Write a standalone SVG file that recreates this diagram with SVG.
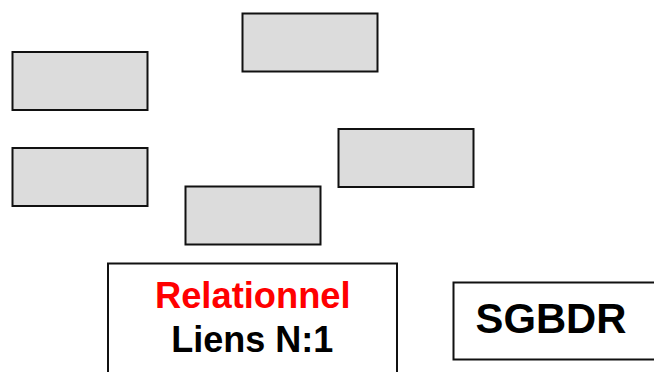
<svg xmlns="http://www.w3.org/2000/svg" width="654" height="372" viewBox="0 0 654 372">
<style>
.box{fill:#dcdcdc;stroke:#111;stroke-width:2}
.frame{fill:#fff;stroke:#111;stroke-width:2}
text{font-family:"Liberation Sans",Arial,sans-serif;font-weight:bold}
</style>
<rect width="654" height="372" fill="#fff"/>
<g id="box1"><rect class="box" x="242.5" y="13.5" width="135" height="58"/></g>
<g id="box2"><rect class="box" x="12.5" y="52" width="135" height="58"/></g>
<g id="box3"><rect class="box" x="12.5" y="148" width="135" height="58"/></g>
<g id="box4"><rect class="box" x="185.5" y="186.5" width="135" height="58"/></g>
<g id="box5"><rect class="box" x="338.5" y="129" width="135" height="58"/></g>
<g id="relationnel"><rect class="frame" x="108" y="263.5" width="289" height="120"/>
<text x="252.8" y="307.7" font-size="36.3" fill="#ff0000" text-anchor="middle">Relationnel</text>
<text x="252.3" y="351.7" font-size="36" fill="#000" text-anchor="middle">Liens N:1</text></g>
<g id="sgbdr"><rect class="frame" x="453.5" y="282.5" width="210" height="77"/>
<text x="475.5" y="333.3" font-size="41.8" fill="#000">SGBDR</text></g>
<g id="connectors"></g>
</svg>
